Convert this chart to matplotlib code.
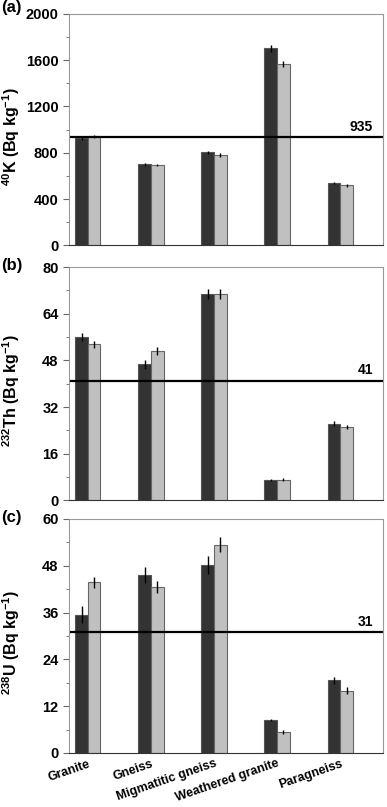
import matplotlib
matplotlib.use('Agg')
import matplotlib.pyplot as plt
from matplotlib.ticker import MultipleLocator
import numpy as np

plt.rcParams['font.family'] = ['Liberation Sans', 'DejaVu Sans']
plt.rcParams['font.weight'] = 'bold'
plt.rcParams['mathtext.fontset'] = 'custom'
plt.rcParams['mathtext.rm'] = 'Liberation Sans:bold'
plt.rcParams['mathtext.bf'] = 'Liberation Sans:bold'

rocks = ['Granite', 'Gneiss', 'Migmatitic gneiss', 'Weathered granite', 'Paragneiss']

# 40K
k_dark = [925, 698, 802, 1703, 537]
k_dark_err = [18, 10, 14, 30, 10]
k_light = [940, 693, 779, 1564, 517]
k_light_err = [12, 10, 14, 28, 10]
k_ref = 935

# 232Th
th_dark = [56.1, 46.7, 70.8, 6.9, 26.3]
th_dark_err = [1.3, 1.6, 1.8, 0.4, 0.9]
th_light = [53.5, 51.2, 70.8, 7.1, 25.1]
th_light_err = [1.2, 1.4, 1.8, 0.4, 0.8]
th_ref = 41

# 238U
u_dark = [35.4, 45.6, 48.2, 8.5, 18.6]
u_dark_err = [2.2, 2.1, 2.3, 0.3, 0.8]
u_light = [43.8, 42.6, 53.4, 5.3, 16.0]
u_light_err = [1.4, 1.5, 2.0, 0.5, 0.8]
u_ref = 31

panels = [
    ('(a)', k_dark, k_dark_err, k_light, k_light_err, k_ref, 2000, 400, 200,
     r'$^{40}$K (Bq kg$^{-1}$)'),
    ('(b)', th_dark, th_dark_err, th_light, th_light_err, th_ref, 80, 16, 8,
     r'$^{232}$Th (Bq kg$^{-1}$)'),
    ('(c)', u_dark, u_dark_err, u_light, u_light_err, u_ref, 60, 12, 6,
     r'$^{238}$U (Bq kg$^{-1}$)'),
]

boxes = [(0.983, 0.696), (0.669, 0.380), (0.357, 0.067)]
tag_y = [0.991, 0.671, 0.359]
left, right = 0.178, 0.990

fig = plt.figure(figsize=(3.87, 8.07), dpi=100)
x = np.arange(len(rocks))
w = 0.2

for (tag, dark, derr, light, lerr, ref, ymax, maj, mnr, ylab), (top, bot), ty in zip(panels, boxes, tag_y):
    ax = fig.add_axes([left, bot, right - left, top - bot])
    ax.bar(x - w / 2, dark, w, color='#333333', edgecolor='#555555', linewidth=0.8,
           yerr=derr, error_kw=dict(ecolor='black', elinewidth=1, capsize=0))
    ax.bar(x + w / 2, light, w, color='#c0c0c0', edgecolor='#666666', linewidth=0.8,
           yerr=lerr, error_kw=dict(ecolor='black', elinewidth=1, capsize=0))
    ax.axhline(ref, color='black', linewidth=1.6)
    ax.text(4.52, ref + ymax * 0.015, str(ref), ha='right', va='bottom',
            fontsize=10, fontweight='bold')
    ax.set_xlim(-0.30, 4.68)
    ax.set_ylim(0, ymax)
    ax.yaxis.set_major_locator(MultipleLocator(maj))
    ax.yaxis.set_minor_locator(MultipleLocator(mnr))
    ax.tick_params(axis='y', which='major', direction='out', length=4, width=0.8,
                   labelsize=10.5, color='#666666')
    ax.tick_params(axis='y', which='minor', direction='out', length=2.5, width=0.6,
                   color='#666666')
    ax.tick_params(axis='x', length=0)
    for s in ['top', 'right', 'left']:
        ax.spines[s].set_color('#999999')
        ax.spines[s].set_linewidth(0.8)
    ax.spines['bottom'].set_color('#333333')
    for lab in ax.get_yticklabels():
        lab.set_fontweight('bold')
    ax.set_ylabel(ylab, fontsize=11.5, fontweight='bold')
    ax.yaxis.set_label_coords(-0.185, 0.47)
    ax.yaxis.label.set_va('center')
    ax.set_xticks(x)
    if tag == '(c)':
        ax.set_xticklabels(rocks, rotation=19, ha='right', rotation_mode='anchor',
                           fontsize=9, fontweight='bold')
    else:
        ax.set_xticklabels([])
    fig.text(0.003, ty, tag, ha='left', va='center', fontsize=12,
             fontweight='bold')

fig.savefig('out.png', dpi=100)
